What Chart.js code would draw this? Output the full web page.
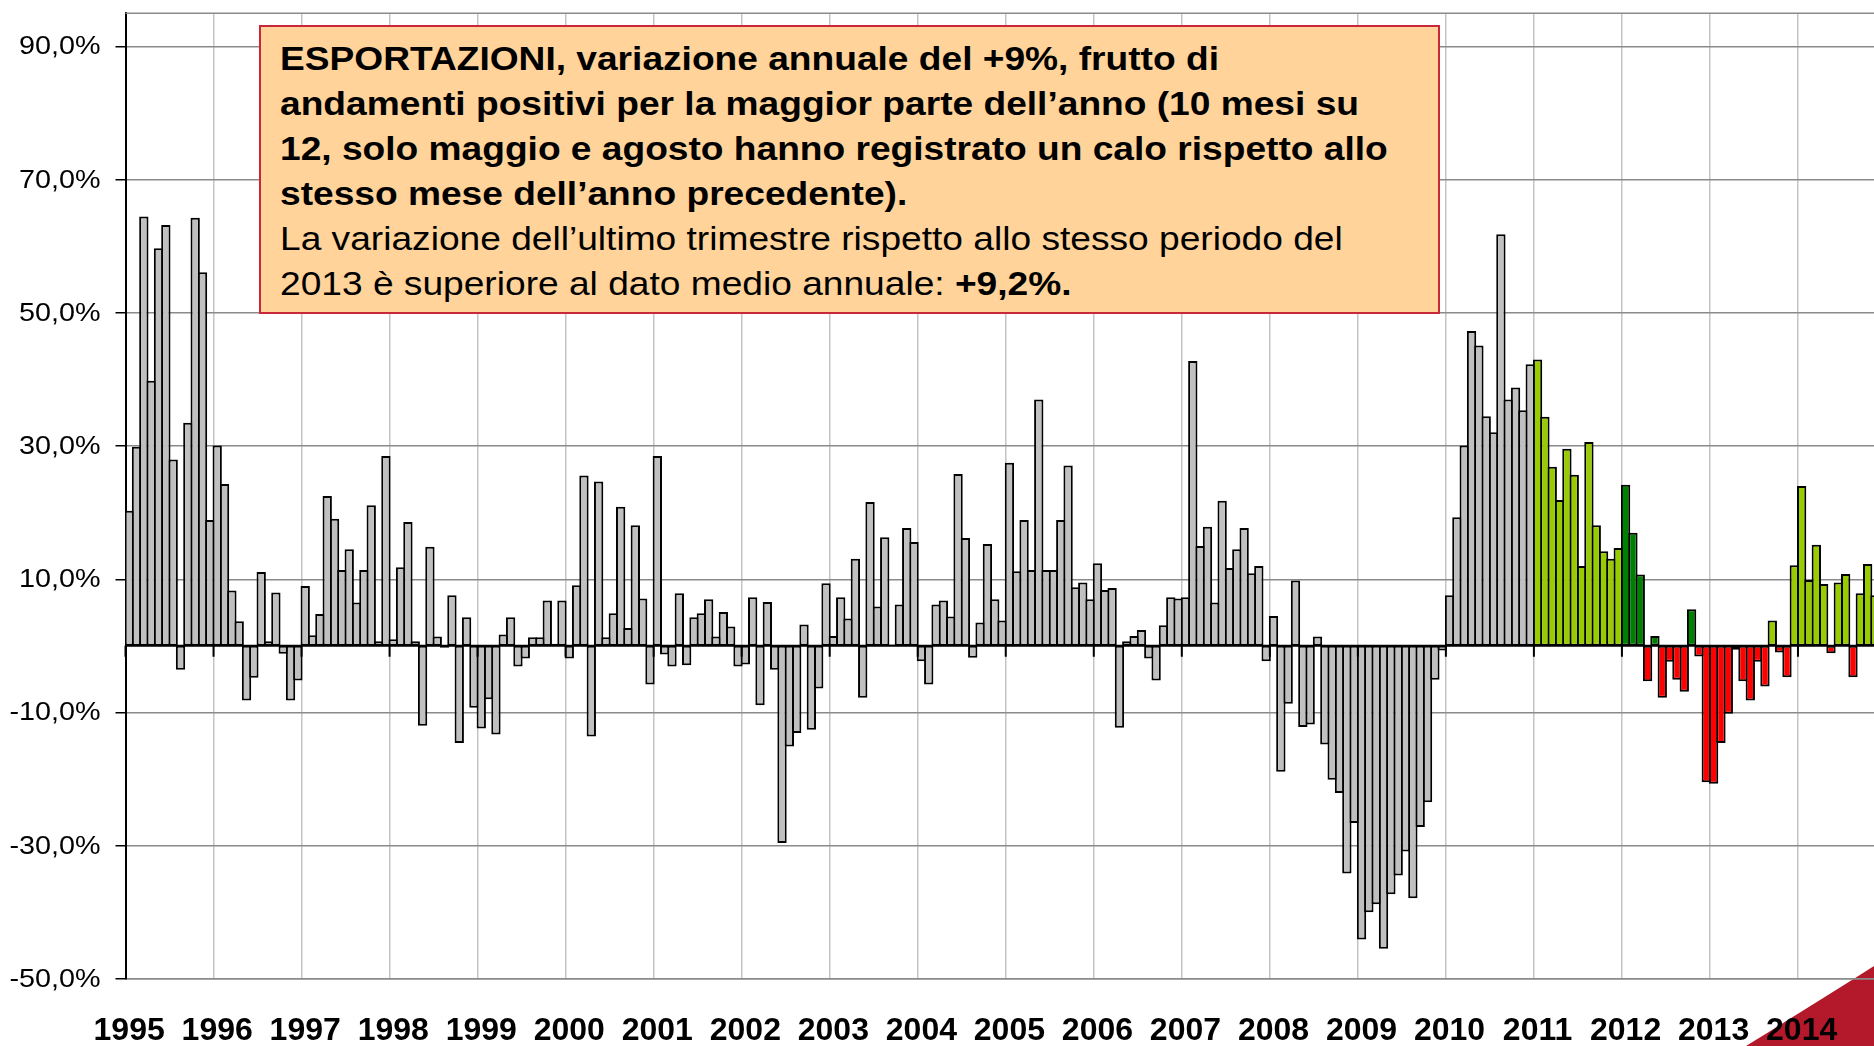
<!DOCTYPE html>
<html>
<head>
<meta charset="utf-8">
<script src="https://cdn.jsdelivr.net/npm/chart.js@4.4.1/dist/chart.umd.min.js"></script>
<style>
    html, body { margin: 0; padding: 0; background: #fff; overflow: hidden; }
    #wrap { position: relative; width: 1874px; height: 1046px; overflow: hidden; }
    #deco, #chart { position: absolute; left: 0; top: 0; }
    #note {
        position: absolute; left: 259px; top: 25px; width: 1181px; height: 289px;
        box-sizing: border-box; border: 2px solid #c8283a; background: #ffd399;
        font-family: "Liberation Sans", Arial, sans-serif; color: #000;
    }
    #note .txt {
        position: absolute; left: 19px; top: 9px; font-size: 33px; line-height: 45px;
        white-space: nowrap; transform: scaleX(1.125); transform-origin: 0 0;
    }
</style>
</head>
<body>
<div id="wrap">
    <svg id="deco" width="1874" height="1046">
        <path d="M 1746 1046 Q 1846 984 1874 966 L 1874 1046 Z" fill="#b3192b"/>
    </svg>
    <canvas id="chart" width="1890" height="1046"></canvas>
    <div id="note"><div class="txt"><b>ESPORTAZIONI, variazione annuale del +9%, frutto di<br>andamenti positivi per la maggior parte dell’anno (10 mesi su<br>12, solo maggio e agosto hanno registrato un calo rispetto allo<br>stesso mese dell’anno precedente).</b><br>La variazione dell’ultimo trimestre rispetto allo stesso periodo del<br>2013 è superiore al dato medio annuale: <b>+9,2%.</b></div></div>
</div>
<script>
// Monthly year-on-year change of exports (%).
const years = [1995, 1996, 1997, 1998, 1999, 2000, 2001, 2002, 2003, 2004,
    2005, 2006, 2007, 2008, 2009, 2010, 2011, 2012, 2013, 2014];
const months = ["gen", "feb", "mar", "apr", "mag", "giu", "lug", "ago", "set", "ott", "nov", "dic"];

const v1995 = [20.3, 29.9, 64.5, 39.8, 59.7, 63.2, 28.0, -3.6, 33.5, 64.3, 56.1, 18.9];
const v1996 = [30.1, 24.3, 8.3, 3.7, -8.2, -4.8, 11.1, 0.7, 8.0, -1.2, -8.2, -5.2];
const v1997 = [9.0, 1.6, 4.8, 22.5, 19.1, 11.4, 14.5, 6.5, 11.4, 21.1, 0.7, 28.5];
const v1998 = [1.0, 11.8, 18.6, 0.7, -12.0, 14.9, 1.4, -0.3, 7.6, -14.6, 4.3, -9.3];
const v1999 = [-12.4, -8.0, -13.3, 1.7, 4.3, -3.1, -1.9, 1.3, 1.3, 6.8, 0.3, 6.8];
const v2000 = [-1.9, 9.1, 25.6, -13.6, 24.7, 1.3, 4.9, 20.9, 2.7, 18.1, 7.1, -5.8];
const v2001 = [28.5, -1.3, -3.1, 7.9, -2.9, 4.3, 4.9, 7.0, 1.4, 5.1, 2.9, -3.1];
const v2002 = [-2.8, 7.3, -8.9, 6.6, -3.6, -29.6, -15.1, -13.1, 3.2, -12.6, -6.4, 9.4];
const v2003 = [1.5, 7.3, 4.1, 13.1, -7.8, 21.6, 5.9, 16.3, 0.2, 6.2, 17.7, 15.6];
const v2004 = [-2.3, -5.8, 6.2, 6.8, 4.4, 25.8, 16.2, -1.8, 3.5, 15.3, 7.0, 3.8];
const v2005 = [27.5, 11.2, 18.9, 11.4, 37.0, 11.4, 11.4, 18.9, 27.1, 8.8, 9.5, 7.0];
const v2006 = [12.4, 8.4, 8.7, -12.3, 0.7, 1.5, 2.4, -1.9, -5.2, 3.1, 7.3, 7.1];
const v2007 = [7.3, 42.8, 15.0, 17.9, 6.5, 21.8, 11.7, 14.5, 17.7, 10.9, 12.0, -2.3];
const v2008 = [4.5, -18.9, -8.7, 9.8, -12.2, -11.8, 1.4, -14.8, -20.1, -22.1, -34.2, -26.6];
const v2009 = [-44.1, -40.0, -38.8, -45.5, -37.3, -34.5, -30.9, -37.9, -27.2, -23.5, -5.1, -0.7];
const v2010 = [7.6, 19.3, 30.1, 47.3, 45.1, 34.5, 32.1, 61.8, 37.0, 38.8, 35.4, 42.3];
const v2011 = [43.0, 34.4, 26.9, 21.9, 29.6, 25.7, 12.0, 30.6, 18.1, 14.2, 13.1, 14.7];
const v2012 = [24.2, 17.0, 10.7, -5.3, 1.5, -7.8, -2.4, -5.1, -6.9, 5.5, -1.6, -20.5];
const v2013 = [-20.7, -14.6, -10.2, -0.6, -5.3, -8.2, -2.4, -6.1, 3.8, -1.0, -4.7, 12.1];
const v2014 = [24.0, 9.9, 15.2, 9.3, -1.1, 9.5, 10.8, -4.7, 7.9, 12.3, 7.6, null];

const yTicks = [-50, -30, -10, 10, 30, 50, 70, 90];

const values = [].concat(v1995, v1996, v1997, v1998, v1999, v2000, v2001, v2002, v2003, v2004,
    v2005, v2006, v2007, v2008, v2009, v2010, v2011, v2012, v2013, v2014);
const labels = years.flatMap((y) => months.map((m) => `${m} ${y}`));

const GREY = "#c0c0c0";
const LIGHT_GREEN = "#99cc00";
const DARK_GREEN = "#008000";
const RED = "#ff0000";
const FONT = '"Liberation Sans", Arial, sans-serif';

// Older years grey; from 2011 green when up, red when down (2012 in dark green).
function barColor(ctx) {
    const year = years[Math.floor(ctx.dataIndex / 12)];
    const v = ctx.raw;
    if (year < 2011) return GREY;
    if (v < 0) return RED;
    return year === 2012 ? DARK_GREEN : LIGHT_GREEN;
}

function formatPct(v) {
    return v.toFixed(1).replace(".", ",") + "%";
}

// Frame top line, zero axis with year tick marks, and the (slightly wide) y labels.
const axisExtras = {
    id: "axisExtras",
    beforeDatasetsDraw(chart) {
        const { ctx, chartArea: a } = chart;
        ctx.save();
        ctx.strokeStyle = "#8a8a8a";
        ctx.lineWidth = 1.5;
        ctx.beginPath();
        ctx.moveTo(a.left, a.top);
        ctx.lineTo(a.right, a.top);
        ctx.stroke();
        ctx.restore();
    },
    afterDatasetsDraw(chart) {
        const { ctx, chartArea: a, scales } = chart;
        const x = scales.x;
        const y0 = scales.y.getPixelForValue(0);
        const half = (x.getPixelForValue(1) - x.getPixelForValue(0)) / 2;
        ctx.save();
        ctx.strokeStyle = "#000";
        ctx.lineWidth = 2;
        ctx.beginPath();
        ctx.moveTo(a.left, y0);
        ctx.lineTo(a.right, y0);
        for (let i = 0; i <= values.length; i += 12) {
            const px = x.getPixelForValue(i) - half;
            ctx.moveTo(px, y0);
            ctx.lineTo(px, y0 + 11);
        }
        ctx.stroke();
        ctx.restore();
    },
    afterDraw(chart) {
        const { ctx, chartArea: a, scales } = chart;
        ctx.save();
        ctx.fillStyle = "#000";
        ctx.font = "25px " + FONT;
        ctx.textAlign = "right";
        ctx.textBaseline = "middle";
        yTicks.forEach((v) => {
            ctx.save();
            ctx.translate(a.left - 25, scales.y.getPixelForValue(v) + 1);
            ctx.scale(1.15, 1);
            ctx.fillText(formatPct(v), 0, 0);
            ctx.restore();
        });
        ctx.restore();
    },
};

Chart.defaults.font.family = FONT;
Chart.defaults.color = "#000";

new Chart(document.getElementById("chart"), {
    type: "bar",
    data: {
        labels: labels,
        datasets: [
            {
                data: values,
                backgroundColor: barColor,
                borderColor: "#000",
                borderWidth: 2,
                borderSkipped: false,
                barPercentage: 1.2727,
                categoryPercentage: 1,
            },
        ],
    },
    options: {
        responsive: false,
        animation: false,
        layout: { padding: { top: 13.3, right: 4, bottom: 0, left: 0 } },
        plugins: {
            legend: { display: false },
            tooltip: { enabled: false },
        },
        scales: {
            x: {
                offset: true,
                grid: {
                    offset: true,
                    lineWidth: 1.5,
                    drawTicks: false,
                    color: (ctx) => (ctx.index % 12 === 0 ? "#c4c4c4" : "rgba(0,0,0,0)"),
                },
                border: { color: "#8a8a8a", width: 1.5 },
                ticks: {
                    autoSkip: false,
                    maxRotation: 0,
                    minRotation: 0,
                    padding: 33,
                    font: { size: 32, weight: "bold" },
                    callback: (value, index) => (index % 12 === 0 ? String(years[index / 12]) : ""),
                },
                afterFit(scale) {
                    scale.height = 67.2;
                    scale.paddingLeft = 0;
                    scale.paddingRight = 0;
                },
            },
            y: {
                min: -50,
                max: 95,
                afterBuildTicks(scale) {
                    scale.ticks = yTicks.map((v) => ({ value: v }));
                },
                grid: {
                    color: "#8a8a8a",
                    lineWidth: 1.5,
                    tickColor: "#000",
                    tickLength: 10,
                    tickWidth: 1.5,
                },
                border: { color: "#000", width: 2 },
                ticks: { display: false },
                afterFit(scale) {
                    scale.width = 125.5;
                    scale.paddingTop = 0;
                    scale.paddingBottom = 0;
                },
            },
        },
    },
    plugins: [axisExtras],
});
</script>
</body>
</html>
